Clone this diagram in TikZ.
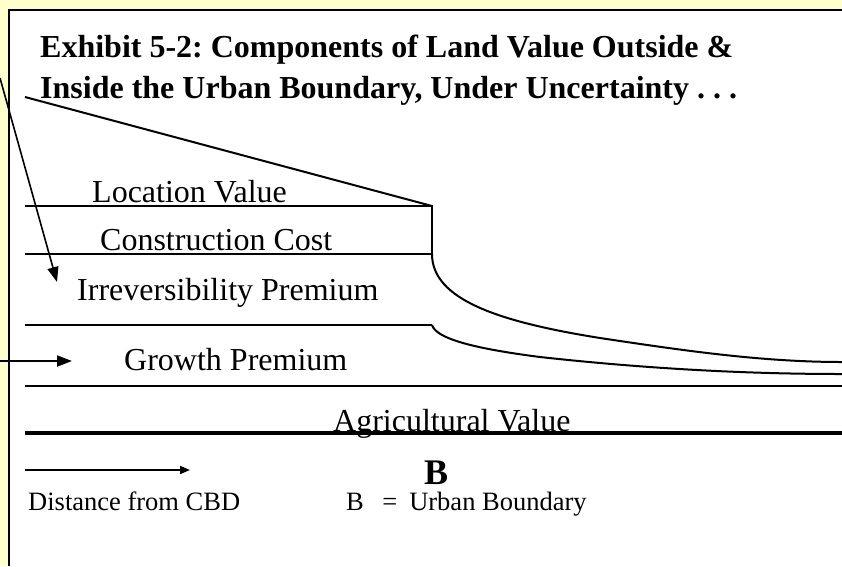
\documentclass[tikz,border=0pt]{standalone}
\usepackage{fontspec}
\setmainfont{Liberation Serif}
\usetikzlibrary{arrows.meta}
\definecolor{bgyellow}{HTML}{FFFFCC}
\frenchspacing
\tikzset{
  lbl/.style={anchor=base west, inner sep=0pt, font=\fontsize{32}{38}\selectfont},
  ttl/.style={anchor=base west, inner sep=0pt, font=\fontsize{32}{38}\selectfont\bfseries},
  smalllbl/.style={anchor=base west, inner sep=0pt, font=\fontsize{26.5}{32}\selectfont},
  bnd/.style={anchor=base west, inner sep=0pt, font=\fontsize{36}{40}\selectfont\bfseries},
  ln/.style={line width=2pt},
  agln/.style={line width=4.5pt},
  bigarrow/.style={line width=1.6pt, -{Triangle[length=15pt,width=11pt]}},
  smallarrow/.style={line width=2pt, -{Triangle[length=10pt,width=8pt]}},
}
\begin{document}
\begin{tikzpicture}[x=1pt,y=-1pt]
\useasboundingbox (0,0) rectangle (842,566);
\fill[bgyellow] (0,0) rectangle (842,566);
\fill[white] (8.5,10) rectangle (842,566);
\draw[line width=2pt] (8.5,566) -- (8.5,10) -- (842,10);

% title
\node[ttl] (t1) at (40,57) {Exhibit 5-2: Components of Land Value Outside \&};
\node[ttl] (t2) at (40,98) {Inside the Urban Boundary, Under Uncertainty . . .};

% geometry
\coordinate (sl) at (25,97);
\coordinate (bA) at (432,206);
\coordinate (bB) at (432,254);
\coordinate (bC) at (432,325);
\draw[ln] (sl) -- (bA);
\draw[ln] (25,206) -- (bA) -- (bB);
\draw[ln] (25,254) -- (bB);
\draw[ln] (bB) .. controls (432,300) and (500,322) .. (600,338)
          .. controls (680,350) and (760,362) .. (842,362);
\draw[ln] (25,325) -- (bC);
\draw[ln] (bC) .. controls (436,338) and (470,348) .. (540,357)
          .. controls (640,368) and (740,374) .. (842,374);
\draw[ln] (25,386) -- (842,386);
\draw[agln] (25,433) -- (842,433);

% labels
\node[lbl] (loc) at (92,202) {Location Value};
\node[lbl] (con) at (100,250) {Construction Cost};
\node[lbl] (irr) at (77,300) {Irreversibility Premium};
\node[lbl] (gro) at (124,370) {Growth Premium};
\node[lbl] (agr) at (333,431) {Agricultural Value};
\node[bnd] (b) at (424,484) {B};
\node[smalllbl] (dist) at (28,510) {Distance from CBD};
\node[smalllbl] (bdef) at (346,510) {B\hspace{0.7em}=\hspace{0.45em}Urban Boundary};

% arrows
\coordinate (a1s) at (0,78);
\coordinate (a1e) at (57,282);
\draw[bigarrow] (a1s) -- (a1e);
\coordinate (a2s) at (0,361);
\coordinate (a2e) at (72,361);
\draw[bigarrow, line width=2pt] (a2s) -- (a2e);
\coordinate (a3s) at (25,470);
\coordinate (a3e) at (190,470);
\draw[smallarrow] (a3s) -- (a3e);
\end{tikzpicture}
\end{document}
